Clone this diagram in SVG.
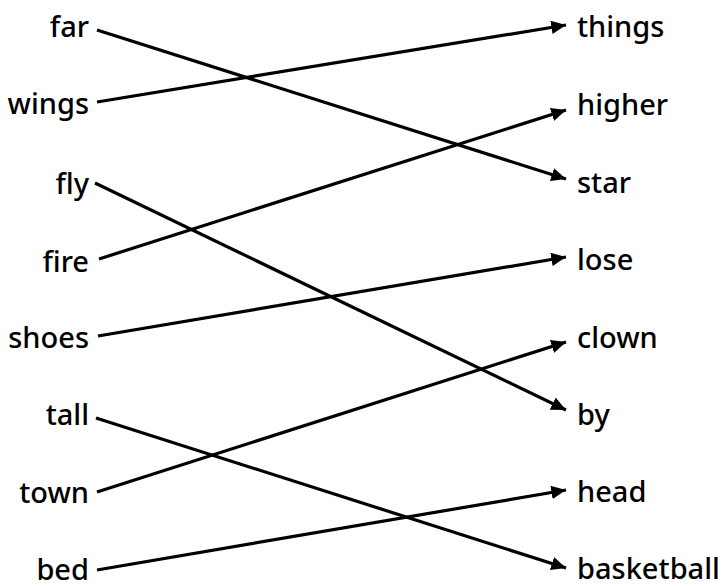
<svg xmlns="http://www.w3.org/2000/svg" width="727" height="586" viewBox="0 0 727 586">
<defs>
<style>
text{font-family:"Noto Sans","DejaVu Sans",sans-serif;font-size:29px;font-weight:500;fill:#000;dominant-baseline:central}
.l{text-anchor:end}
.r{text-anchor:start}
line{stroke:#000;stroke-width:3.2;marker-end:url(#ah)}
</style>
<marker id="ah" viewBox="0 0 10 10" refX="10" refY="5" markerWidth="4.6" markerHeight="4.2" markerUnits="strokeWidth" orient="auto" preserveAspectRatio="none">
<path d="M0,0L10,5L0,10z" fill="#000"/>
</marker>
</defs>
<rect width="727" height="586" fill="#fff"/>
<g id="connectors">
<line x1="97" y1="30" x2="566" y2="179"/>
<line x1="97" y1="102" x2="566" y2="25"/>
<line x1="95" y1="183" x2="566" y2="410"/>
<line x1="99" y1="259" x2="566" y2="110"/>
<line x1="98" y1="336" x2="566" y2="257"/>
<line x1="96" y1="418" x2="566" y2="568"/>
<line x1="97" y1="492" x2="566" y2="342"/>
<line x1="97" y1="570" x2="566" y2="490"/>
</g>
<g id="far"><text class="l" x="89" y="25">far</text></g>
<g id="wings"><text class="l" x="89" y="102">wings</text></g>
<g id="fly"><text class="l" x="89" y="182">fly</text></g>
<g id="fire"><text class="l" x="89" y="260">fire</text></g>
<g id="shoes"><text class="l" x="89" y="336">shoes</text></g>
<g id="tall"><text class="l" x="89" y="413">tall</text></g>
<g id="town"><text class="l" x="89" y="491">town</text></g>
<g id="bed"><text class="l" x="89" y="568">bed</text></g>
<g id="things"><text class="r" x="577" y="25">things</text></g>
<g id="higher"><text class="r" x="577" y="103">higher</text></g>
<g id="star"><text class="r" x="577" y="181">star</text></g>
<g id="lose"><text class="r" x="577" y="258">lose</text></g>
<g id="clown"><text class="r" x="577" y="336">clown</text></g>
<g id="by"><text class="r" x="577" y="413">by</text></g>
<g id="head"><text class="r" x="577" y="490">head</text></g>
<g id="basketball"><text class="r" x="577" y="567">basketball</text></g>
</svg>
